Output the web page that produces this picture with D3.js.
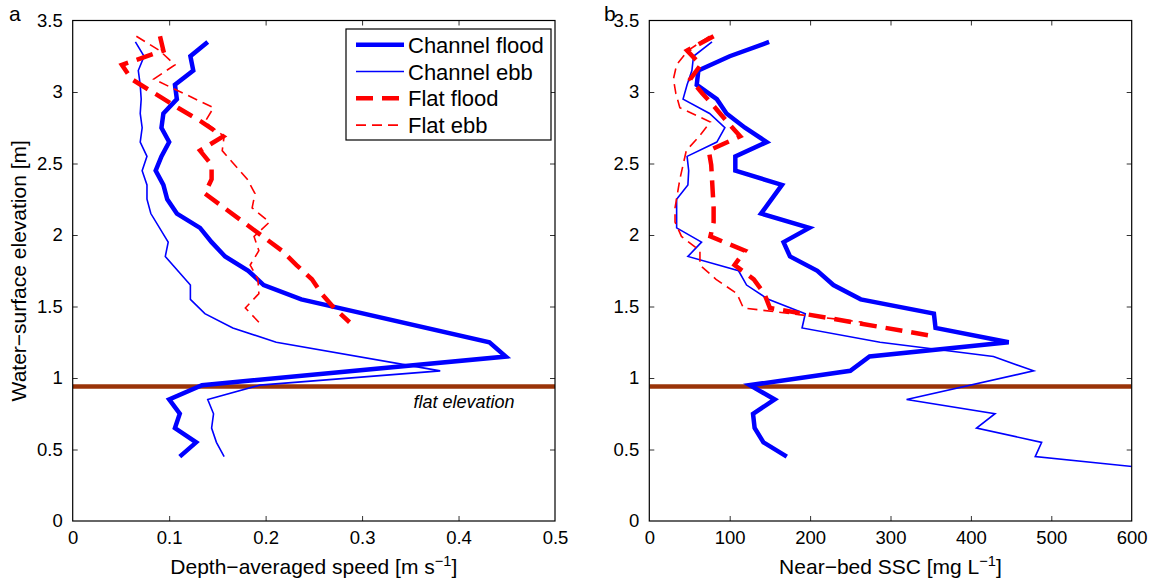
<!DOCTYPE html>
<html>
<head>
<meta charset="utf-8">
<script src="https://cdn.jsdelivr.net/npm/d3@7"></script>
<style>
  html, body { margin: 0; padding: 0; background: #fff; }
  svg { display: block; font-family: "Liberation Sans", Arial, Helvetica, sans-serif; }
</style>
</head>
<body>
<svg id="chart" width="1165" height="586"></svg>
<script>
// ---- Data -------------------------------------------------------------
// Panel a: depth-averaged speed [m/s] profiles
const chanFloodSpeedZ = [3.35,3.25,3.15,3.05,2.95,2.85,2.75,2.65,2.55,2.45,2.35,2.25,2.15,2.05,1.95,1.85,1.75,1.65,1.55,1.25,1.15,0.95,0.85,0.75,0.65,0.55,0.45];
const chanFloodSpeed  = [0.140,0.122,0.125,0.106,0.108,0.094,0.092,0.100,0.092,0.086,0.094,0.098,0.108,0.132,0.144,0.158,0.182,0.198,0.237,0.432,0.449,0.134,0.100,0.111,0.106,0.128,0.111];

const chanEbbSpeedZ = [3.35,3.25,3.15,3.05,2.95,2.85,2.75,2.65,2.55,2.45,2.35,2.25,2.15,1.95,1.85,1.65,1.55,1.45,1.35,1.25,1.05,0.95,0.85,0.75,0.65,0.55,0.45];
const chanEbbSpeed  = [0.065,0.074,0.068,0.070,0.071,0.070,0.072,0.070,0.077,0.072,0.077,0.077,0.081,0.099,0.096,0.122,0.122,0.137,0.166,0.211,0.381,0.194,0.140,0.146,0.144,0.149,0.157];

const flatSpeedZ = [3.39,3.29,3.19,3.09,2.99,2.89,2.79,2.69,2.59,2.49,2.39,2.29,2.19,2.09,1.99,1.89,1.79,1.69,1.59,1.49,1.39];
const flatFloodSpeed = [0.0905,0.094,0.051,0.061,0.085,0.109,0.134,0.156,0.132,0.144,0.144,0.137,0.157,0.177,0.197,0.217,0.232,0.248,0.258,0.271,0.287];
const flatEbbSpeed   = [0.066,0.090,0.106,0.084,0.115,0.146,0.137,0.157,0.155,0.168,0.181,0.189,0.186,0.204,0.188,0.193,0.184,0.192,0.193,0.179,0.193];

// Panel b: near-bed SSC [mg/L] profiles
const chanFloodSscZ = [3.35,3.25,3.15,3.05,2.95,2.85,2.75,2.65,2.55,2.45,2.35,2.15,2.05,1.95,1.85,1.75,1.65,1.55,1.45,1.35,1.25,1.15,1.05,0.95,0.85,0.75,0.65,0.55,0.45];
const chanFloodSsc  = [149,100,61,59,84,96,119,146,107,107,165,139,199,167,175,209,229,263,354,356,447,274,250,125,156,129,131,142,171];

const chanEbbSscZ = [3.35,3.25,3.15,3.05,2.95,2.85,2.75,2.65,2.55,2.45,2.35,2.25,2.15,2.05,1.95,1.85,1.75,1.65,1.55,1.45,1.35,1.25,1.15,1.05,0.85,0.75,0.65,0.55,0.45,0.35];
const chanEbbSsc  = [78,55,53,47,42,75,94,84,47,49,48,34,34,34,65,48,111,121,148,194,190,287,428,478,320,430,407,488,480,656];

const flatFloodSscZ = [3.39,3.29,3.19,3.09,2.99,2.89,2.79,2.69,2.59,2.49,2.39,2.29,2.19,2.09,1.99,1.89,1.79,1.69,1.59,1.49,1.39,1.29];
const flatFloodSsc  = [80,47,64,51,66,82,97,113,74,77,78,79,80,80,76,119,106,130,143,150,253,356];

const flatEbbSscZ = [3.39,3.29,3.19,3.09,2.99,2.89,2.79,2.69,2.59,2.49,2.39,2.29,2.19,2.09,1.99,1.89,1.79,1.69,1.59,1.49,1.39];
const flatEbbSsc  = [75,48,34,30,33,38,76,62,46,42,38,35,32,32,40,63,63,83,109,117,265];

// Flat elevation [m]
const flatElevation = 0.94;

// Tick labels
const yTicks = [0,0.5,1,1.5,2,2.5,3,3.5];
const yTickLabels = ["0","0.5","1","1.5","2","2.5","3","3.5"];
const xTicksA = [0,0.1,0.2,0.3,0.4,0.5];
const xTickLabelsA = ["0","0.1","0.2","0.3","0.4","0.5"];
const xTicksB = [0,100,200,300,400,500,600];
const xTickLabelsB = ["0","100","200","300","400","500","600"];

const legendLabels = ["Channel flood","Channel ebb","Flat flood","Flat ebb"];

// ---- Styles -----------------------------------------------------------
const styles = [
  {color: "#0000ff", width: 4.5, dash: null},
  {color: "#0000ff", width: 1.6, dash: null},
  {color: "#ff0000", width: 4.5, dash: "17,9"},
  {color: "#ff0000", width: 1.6, dash: "10,6"}
];
const elevColor = "#9a3409";
const TICK_FONT = 18.5, LABEL_FONT = 21, LEGEND_FONT = 22;

// ---- Layout -----------------------------------------------------------
const svg = d3.select("#chart");
const plotTop = 20.5, plotBottom = 521;
const panels = [
  {id: "a", letterX: 9, left: 72.7, right: 555, xMax: 0.5, ticks: xTicksA, tickLabels: xTickLabelsA,
   xlabel: ["Depth\u2212averaged speed [m s", "\u22121", "]"],
   series: [
     [chanFloodSpeedZ, chanFloodSpeed],
     [chanEbbSpeedZ, chanEbbSpeed],
     [flatSpeedZ, flatFloodSpeed],
     [flatSpeedZ, flatEbbSpeed]
   ]},
  {id: "b", letterX: 604, left: 649.3, right: 1131.7, xMax: 600, ticks: xTicksB, tickLabels: xTickLabelsB,
   xlabel: ["Near\u2212bed SSC [mg L", "\u22121", "]"],
   series: [
     [chanFloodSscZ, chanFloodSsc],
     [chanEbbSscZ, chanEbbSsc],
     [flatFloodSscZ, flatFloodSsc],
     [flatEbbSscZ, flatEbbSsc]
   ]}
];

const y = d3.scaleLinear().domain([0, 3.5]).range([plotBottom, plotTop]);
const defs = svg.append("defs");

panels.forEach(p => {
  const x = d3.scaleLinear().domain([0, p.xMax]).range([p.left, p.right]);
  const g = svg.append("g");

  // clip region for the plot area
  const clipId = "clip-" + p.id;
  defs.append("clipPath").attr("id", clipId)
    .append("rect").attr("x", p.left).attr("y", plotTop)
    .attr("width", p.right - p.left).attr("height", plotBottom - plotTop);

  const plot = g.append("g").attr("clip-path", `url(#${clipId})`);

  // flat elevation line
  plot.append("line")
    .attr("x1", x(0)).attr("x2", x(p.xMax))
    .attr("y1", y(flatElevation)).attr("y2", y(flatElevation))
    .attr("stroke", elevColor).attr("stroke-width", 4.5);

  // profiles
  const line = d3.line().x(d => x(d[1])).y(d => y(d[0]));
  p.series.forEach((s, i) => {
    const pts = s[0].map((z, k) => [z, s[1][k]]);
    plot.append("path")
      .attr("d", line(pts))
      .attr("fill", "none")
      .attr("stroke", styles[i].color)
      .attr("stroke-width", styles[i].width)
      .attr("stroke-dasharray", styles[i].dash)
      .attr("stroke-linejoin", "miter");
  });

  // axes: ticks pointing inward on all four sides
  const axB = d3.axisBottom(x).tickValues(p.ticks).tickFormat((d, k) => p.tickLabels[k])
    .tickSizeInner(-5).tickSizeOuter(0).tickPadding(10);
  const axT = d3.axisTop(x).tickValues(p.ticks).tickFormat("").tickSizeInner(-5).tickSizeOuter(0);
  const axL = d3.axisLeft(y).tickValues(yTicks).tickFormat((d, k) => yTickLabels[k])
    .tickSizeInner(-5).tickSizeOuter(0).tickPadding(10);
  const axR = d3.axisRight(y).tickValues(yTicks).tickFormat("").tickSizeInner(-5).tickSizeOuter(0);

  const gb = g.append("g").attr("transform", `translate(0,${plotBottom})`).call(axB);
  const gt = g.append("g").attr("transform", `translate(0,${plotTop})`).call(axT);
  const gl = g.append("g").attr("transform", `translate(${p.left},0)`).call(axL);
  const gr = g.append("g").attr("transform", `translate(${p.right},0)`).call(axR);
  [gb, gt, gl, gr].forEach(a => {
    a.select(".domain").remove();
    a.selectAll(".tick line").attr("stroke", "#333").attr("stroke-width", 1);
    a.selectAll(".tick text").attr("font-size", TICK_FONT).attr("fill", "#000")
      .attr("font-family", "Liberation Sans, Arial, sans-serif");
  });
  // drop the ticks that sit on the box corners
  [gb, gt].forEach(a => a.selectAll(".tick line").filter(d => d === 0 || d === p.xMax).remove());
  [gl, gr].forEach(a => a.selectAll(".tick line").filter(d => d === 0 || d === 3.5).remove());

  // axes box
  g.append("rect")
    .attr("x", p.left).attr("y", plotTop)
    .attr("width", p.right - p.left).attr("height", plotBottom - plotTop)
    .attr("fill", "none").attr("stroke", "#000").attr("stroke-width", 1.2);

  // x label with superscript
  const xl = g.append("text")
    .attr("x", (p.left + p.right) / 2).attr("y", 574)
    .attr("text-anchor", "middle").attr("font-size", LABEL_FONT).attr("fill", "#000");
  xl.append("tspan").text(p.xlabel[0]);
  xl.append("tspan").attr("dy", -8).attr("font-size", LABEL_FONT * 0.7).text(p.xlabel[1]);
  xl.append("tspan").attr("dy", 8).text(p.xlabel[2]);

  // panel letter
  g.append("text").attr("x", p.letterX).attr("y", 21)
    .attr("font-size", LABEL_FONT).attr("fill", "#000").text(p.id);
});

// y label on panel a
svg.append("text")
  .attr("transform", `translate(26,${(plotTop + plotBottom) / 2}) rotate(-90)`)
  .attr("text-anchor", "middle").attr("font-size", LABEL_FONT).attr("fill", "#000")
  .text("Water\u2212surface elevation [m]");

// flat elevation note
svg.append("text")
  .attr("x", 464).attr("y", 408)
  .attr("text-anchor", "middle").attr("font-size", 18).attr("font-style", "italic")
  .attr("fill", "#000").text("flat elevation");

// legend
const lg = svg.append("g");
lg.append("rect").attr("x", 346).attr("y", 29).attr("width", 205).attr("height", 111)
  .attr("fill", "#fff").attr("stroke", "#000").attr("stroke-width", 1.2);
legendLabels.forEach((lab, i) => {
  const cy = 44.7 + i * 26.8;
  lg.append("line").attr("x1", 356).attr("x2", 404).attr("y1", cy).attr("y2", cy)
    .attr("stroke", styles[i].color).attr("stroke-width", styles[i].width)
    .attr("stroke-dasharray", styles[i].dash);
  lg.append("text").attr("x", 408).attr("y", cy + 8)
    .attr("font-size", LEGEND_FONT).attr("fill", "#000").text(lab);
});
</script>
</body>
</html>
